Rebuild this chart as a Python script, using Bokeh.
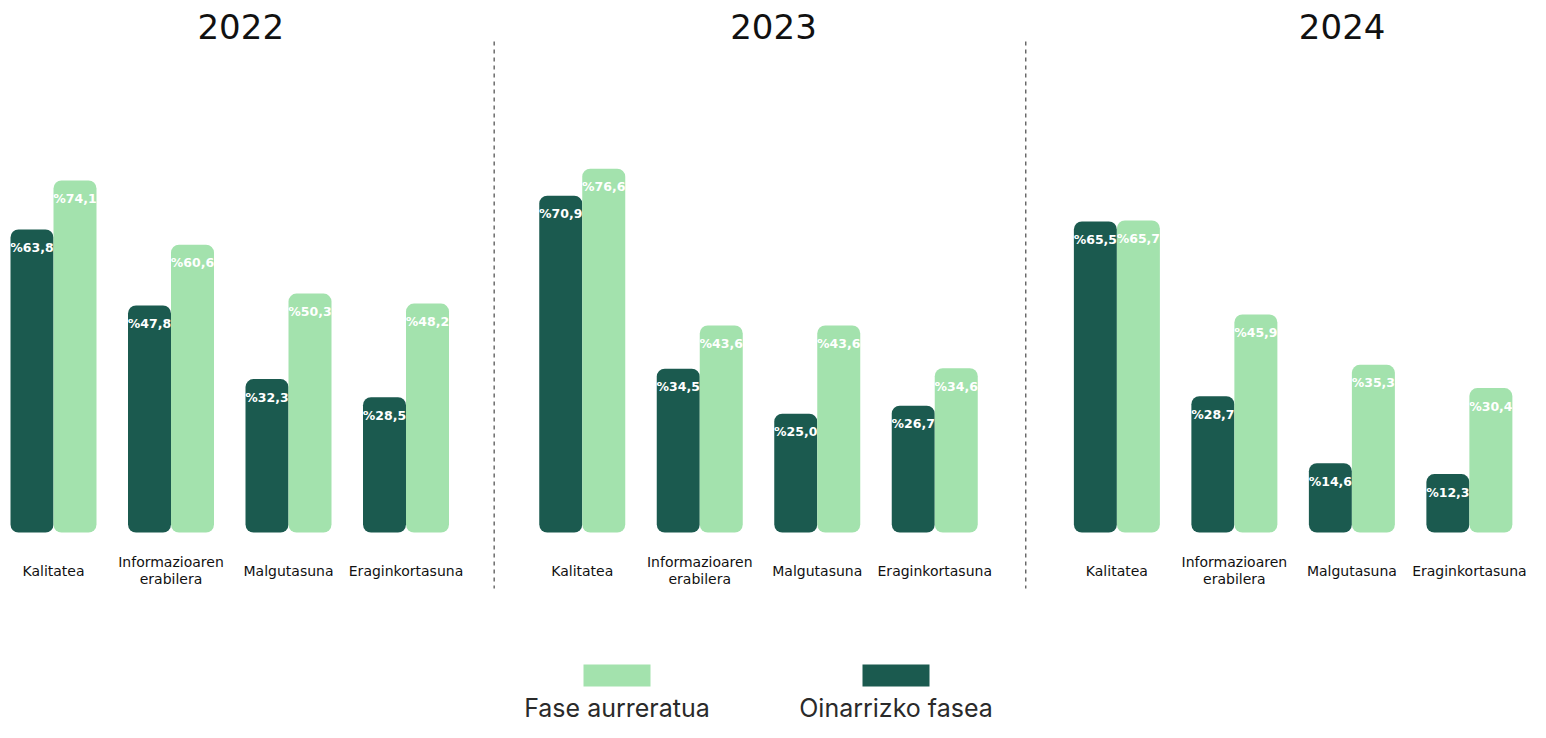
from bokeh.plotting import figure
from bokeh.models import Range1d, Label, BoxAnnotation, ColumnDataSource
from bokeh.core.properties import value
from bokeh.embed import file_html
from bokeh.resources import INLINE

# ---------------- data ----------------
years = ["2022", "2023", "2024"]
categories = ["Kalitatea", "Informazioaren\nerabilera", "Malgutasuna", "Eraginkortasuna"]
oinarrizko_2022 = [63.8, 47.8, 32.3, 28.5]
oinarrizko_2023 = [70.9, 34.5, 25.0, 26.7]
oinarrizko_2024 = [65.5, 28.7, 14.6, 12.3]
aurreratua_2022 = [74.1, 60.6, 50.3, 48.2]
aurreratua_2023 = [76.6, 43.6, 43.6, 34.6]
aurreratua_2024 = [65.7, 45.9, 35.3, 30.4]
legend_labels = ["Fase aurreratua", "Oinarrizko fasea"]

oinarrizko = [oinarrizko_2022, oinarrizko_2023, oinarrizko_2024]
aurreratua = [aurreratua_2022, aurreratua_2023, aurreratua_2024]

# ---------------- style / layout ----------------
DARK = "#1b5a4f"
LIGHT = "#a3e2ad"
FONT = "DejaVu Sans"
W, H = 1530, 722
PX_X = 117.5          # pixels per category step
PX_Y = 4.75           # pixels per percentage point
ZERO_PX = 532         # baseline distance from top
LEFT_PX = 53          # first category centre from left
PANEL_STARTS = [0, 4.5, 9.05]   # panel offsets in category steps
BAR_W = 43 / PX_X

x_start = -LEFT_PX / PX_X
x_end = x_start + W / PX_X
y_end = ZERO_PX / PX_Y
y_start = y_end - H / PX_Y


def fmt(v):
    return "%" + f"{v:.1f}".replace(".", ",")


dx, dy, dl, lx, ly, ll, cx, cl = [], [], [], [], [], [], [], []
for pi, year in enumerate(years):
    for ci, cat in enumerate(categories):
        c = PANEL_STARTS[pi] + ci
        dx.append(c - BAR_W / 2)
        dy.append(oinarrizko[pi][ci])
        dl.append(fmt(oinarrizko[pi][ci]))
        lx.append(c + BAR_W / 2)
        ly.append(aurreratua[pi][ci])
        ll.append(fmt(aurreratua[pi][ci]))
        cx.append(c)
        cl.append(cat)

dark_src = ColumnDataSource(dict(x=dx, top=dy, label=dl))
light_src = ColumnDataSource(dict(x=lx, top=ly, label=ll))
cat_src = ColumnDataSource(dict(x=cx, y=[0] * len(cx), label=cl))

p = figure(width=W, height=H, output_backend="svg", toolbar_location=None,
           x_range=Range1d(x_start, x_end), y_range=Range1d(y_start, y_end),
           x_axis_location=None, y_axis_location=None, min_border=0,
           outline_line_color=None, background_fill_color="white",
           border_fill_color="white")
p.grid.visible = False

for src, col in ((dark_src, DARK), (light_src, LIGHT)):
    p.vbar(x="x", top="top", bottom=0, width=BAR_W, source=src,
           fill_color=col, line_color=None, border_radius=8)
    p.text(x="x", y="top", text="label", source=src, text_color="white",
           text_font=value(FONT), text_font_style="bold", text_font_size="12.5px",
           text_align="center", text_baseline="middle", y_offset=18)

p.text(x="x", y="y", text="label", source=cat_src, text_color="#111111",
       text_font=value(FONT), text_font_size="14px", text_align="center",
       text_baseline="middle", y_offset=38, text_line_height=1.05)

# panel titles
title_x = [PANEL_STARTS[pi] + 1.5 for pi in range(len(years))]
title_shift = [11, 15, 49]
title_y = y_end - 26 / PX_Y
for tx, ts, yr in zip(title_x, title_shift, years):
    p.text(x=[tx], y=[title_y], text=[yr], x_offset=ts, text_color="#111111",
           text_font=value(FONT), text_font_size="34px", text_align="center",
           text_baseline="middle")

# dashed separators
sep_x = [(PANEL_STARTS[pi] + 3 + PANEL_STARTS[pi + 1]) / 2 for pi in range(len(years) - 1)]
p.segment(x0=sep_x, x1=sep_x, y0=[y_end - 41 / PX_Y] * len(sep_x),
          y1=[y_end - 588 / PX_Y] * len(sep_x), line_color="#222222",
          line_width=1, line_dash="4 4")

# legend (screen units, origin bottom-left)
leg_cols = [LIGHT, DARK]
leg_left = [583, 862]
for col, left, lab in zip(leg_cols, leg_left, legend_labels):
    p.add_layout(BoxAnnotation(left=left, right=left + 67, top=H - 664, bottom=H - 686,
                               left_units="screen", right_units="screen",
                               top_units="screen", bottom_units="screen",
                               fill_color=col, fill_alpha=1, line_color=None))
    p.add_layout(Label(x=left + 33.5, y=H - 707, x_units="screen", y_units="screen",
                       text=lab, text_align="center", text_baseline="middle",
                       text_font="Inter", text_font_size="25px", text_color="#2a2a2a"))

open("out.html", "w").write(file_html(p, INLINE))
